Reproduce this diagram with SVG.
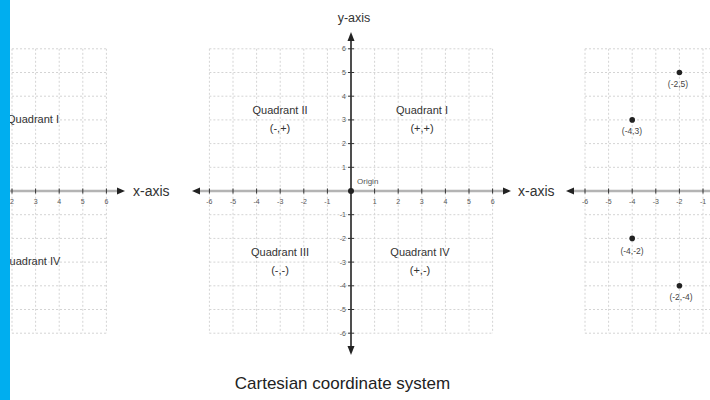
<svg xmlns="http://www.w3.org/2000/svg" width="710" height="400" viewBox="0 0 710 400">
<defs>
<style>
.grid{stroke:#d4d4d4;stroke-width:1;stroke-dasharray:2,2;fill:none}
.xaxis{stroke:#b4b4b4;stroke-width:2.5}
.yaxis{stroke:#222;stroke-width:1.6}
.tick{stroke:#333;stroke-width:1}
.arrow{fill:#222}
.tl{font-family:"Liberation Sans",Arial,sans-serif;font-size:7px;fill:#555;text-anchor:middle}
.tly{font-family:"Liberation Sans",Arial,sans-serif;font-size:7px;fill:#555;text-anchor:end}
.q{font-family:"Liberation Sans",Arial,sans-serif;font-size:11px;fill:#333;text-anchor:middle}
.ax{font-family:"Liberation Sans",Arial,sans-serif;font-size:14px;fill:#333}
.pt{fill:#222}
.pl{font-family:"Liberation Sans",Arial,sans-serif;font-size:8.5px;fill:#444;text-anchor:middle}
</style>
</defs>
<rect width="710" height="400" fill="#fff"/>

<!-- left panel -->
<g id="left-panel">
<path class="grid" d="M12,48.8V333.2M35.6,48.8V333.2M59.2,48.8V333.2M82.8,48.8V333.2M106.4,48.8V333.2
M0,48.8H106.4M0,72.5H106.4M0,96.2H106.4M0,119.9H106.4M0,143.6H106.4M0,167.3H106.4
M0,214.7H106.4M0,238.4H106.4M0,262.1H106.4M0,285.8H106.4M0,309.5H106.4M0,333.2H106.4"/>
<line class="xaxis" x1="0" y1="191" x2="119" y2="191"/>
<polygon class="arrow" points="125,191 117,187.5 117,194.5"/>
<path class="tick" d="M12,188.5V193.5M35.6,188.5V193.5M59.2,188.5V193.5M82.8,188.5V193.5M106.4,188.5V193.5"/>
<text class="tl" x="12" y="203.5">2</text>
<text class="tl" x="35.6" y="203.5">3</text>
<text class="tl" x="59.2" y="203.5">4</text>
<text class="tl" x="82.8" y="203.5">5</text>
<text class="tl" x="106.4" y="203.5">6</text>
<text class="q" x="7" y="123" style="text-anchor:start">Quadrant I</text>
<text class="q" x="1" y="265" style="text-anchor:start">Quadrant IV</text>
<text class="ax" x="133" y="196">x-axis</text>
</g>

<!-- center panel -->
<g id="center-panel">
<path class="grid" d="M209.4,48.8V333.2M233,48.8V333.2M256.6,48.8V333.2M280.2,48.8V333.2M303.8,48.8V333.2M327.4,48.8V333.2
M374.6,48.8V333.2M398.2,48.8V333.2M421.8,48.8V333.2M445.4,48.8V333.2M469,48.8V333.2M492.6,48.8V333.2
M209.4,48.8H492.6M209.4,72.5H492.6M209.4,96.2H492.6M209.4,119.9H492.6M209.4,143.6H492.6M209.4,167.3H492.6
M209.4,214.7H492.6M209.4,238.4H492.6M209.4,262.1H492.6M209.4,285.8H492.6M209.4,309.5H492.6M209.4,333.2H492.6"/>
<line class="xaxis" x1="198" y1="191" x2="504" y2="191"/>
<polygon class="arrow" points="192,191 200,187.5 200,194.5"/>
<polygon class="arrow" points="511,191 503,187.5 503,194.5"/>
<line class="yaxis" x1="351" y1="39" x2="351" y2="347"/>
<polygon class="arrow" points="351,32 347.5,41 354.5,41"/>
<polygon class="arrow" points="351,355 347.5,346 354.5,346"/>
<path class="tick" d="M209.4,188.5V193.5M233,188.5V193.5M256.6,188.5V193.5M280.2,188.5V193.5M303.8,188.5V193.5M327.4,188.5V193.5
M374.6,188.5V193.5M398.2,188.5V193.5M421.8,188.5V193.5M445.4,188.5V193.5M469,188.5V193.5M492.6,188.5V193.5
M348,48.8H354M348,72.5H354M348,96.2H354M348,119.9H354M348,143.6H354M348,167.3H354
M348,214.7H354M348,238.4H354M348,262.1H354M348,285.8H354M348,309.5H354M348,333.2H354"/>
<circle class="pt" cx="351" cy="191" r="3"/>
<text class="tl" x="209.4" y="203.5">-6</text>
<text class="tl" x="233" y="203.5">-5</text>
<text class="tl" x="256.6" y="203.5">-4</text>
<text class="tl" x="280.2" y="203.5">-3</text>
<text class="tl" x="303.8" y="203.5">-2</text>
<text class="tl" x="327.4" y="203.5">-1</text>
<text class="tl" x="374.6" y="203.5">1</text>
<text class="tl" x="398.2" y="203.5">2</text>
<text class="tl" x="421.8" y="203.5">3</text>
<text class="tl" x="445.4" y="203.5">4</text>
<text class="tl" x="469" y="203.5">5</text>
<text class="tl" x="492.6" y="203.5">6</text>
<text class="tly" x="346" y="51.3">6</text>
<text class="tly" x="346" y="75">5</text>
<text class="tly" x="346" y="98.7">4</text>
<text class="tly" x="346" y="122.4">3</text>
<text class="tly" x="346" y="146.1">2</text>
<text class="tly" x="346" y="169.8">1</text>
<text class="tly" x="346" y="217.2">-1</text>
<text class="tly" x="346" y="240.9">-2</text>
<text class="tly" x="346" y="264.6">-3</text>
<text class="tly" x="346" y="288.3">-4</text>
<text class="tly" x="346" y="312">-5</text>
<text class="tly" x="346" y="335.7">-6</text>
<text class="tl" x="357" y="184" style="text-anchor:start;font-size:8px">Origin</text>
<text class="q" x="280" y="114">Quadrant II</text>
<text class="q" x="280" y="132">(-,+)</text>
<text class="q" x="422" y="114">Quadrant I</text>
<text class="q" x="422" y="132">(+,+)</text>
<text class="q" x="280" y="256">Quadrant III</text>
<text class="q" x="280" y="274">(-,-)</text>
<text class="q" x="420" y="256">Quadrant IV</text>
<text class="q" x="420" y="274">(+,-)</text>
<text x="354" y="22" style="font-family:'Liberation Sans',Arial,sans-serif;font-size:12.5px;fill:#333;text-anchor:middle">y-axis</text>
<text class="ax" x="518" y="196">x-axis</text>
</g>

<!-- right panel -->
<g id="right-panel">
<path class="grid" d="M585,48.8V333.2M608.6,48.8V333.2M632.2,48.8V333.2M655.8,48.8V333.2M679.4,48.8V333.2M703,48.8V333.2
M585,48.8H710M585,72.5H710M585,96.2H710M585,119.9H710M585,143.6H710M585,167.3H710
M585,214.7H710M585,238.4H710M585,262.1H710M585,285.8H710M585,309.5H710M585,333.2H710"/>
<line class="xaxis" x1="572" y1="191" x2="710" y2="191"/>
<polygon class="arrow" points="566,191 574,187.5 574,194.5"/>
<path class="tick" d="M585,188.5V193.5M608.6,188.5V193.5M632.2,188.5V193.5M655.8,188.5V193.5M679.4,188.5V193.5M703,188.5V193.5"/>
<text class="tl" x="585" y="203.5">-6</text>
<text class="tl" x="608.6" y="203.5">-5</text>
<text class="tl" x="632.2" y="203.5">-4</text>
<text class="tl" x="655.8" y="203.5">-3</text>
<text class="tl" x="679.4" y="203.5">-2</text>
<text class="tl" x="703" y="203.5">-1</text>
<g id="p1"><circle class="pt" cx="679.4" cy="72.5" r="2.8"/><text class="pl" x="678" y="87">(-2,5)</text></g>
<g id="p2"><circle class="pt" cx="632.2" cy="119.9" r="2.8"/><text class="pl" x="632" y="134">(-4,3)</text></g>
<g id="p3"><circle class="pt" cx="632.2" cy="238.4" r="2.8"/><text class="pl" x="632" y="253.5">(-4,-2)</text></g>
<g id="p4"><circle class="pt" cx="679.4" cy="285.8" r="2.8"/><text class="pl" x="681" y="300">(-2,-4)</text></g>
</g>

<rect id="blue-strip" x="0" y="0" width="10" height="400" fill="#00AEEF"/>

<text x="342.5" y="389" style="font-family:'Liberation Sans',Arial,sans-serif;font-size:17px;fill:#222;text-anchor:middle">Cartesian coordinate system</text>
</svg>
